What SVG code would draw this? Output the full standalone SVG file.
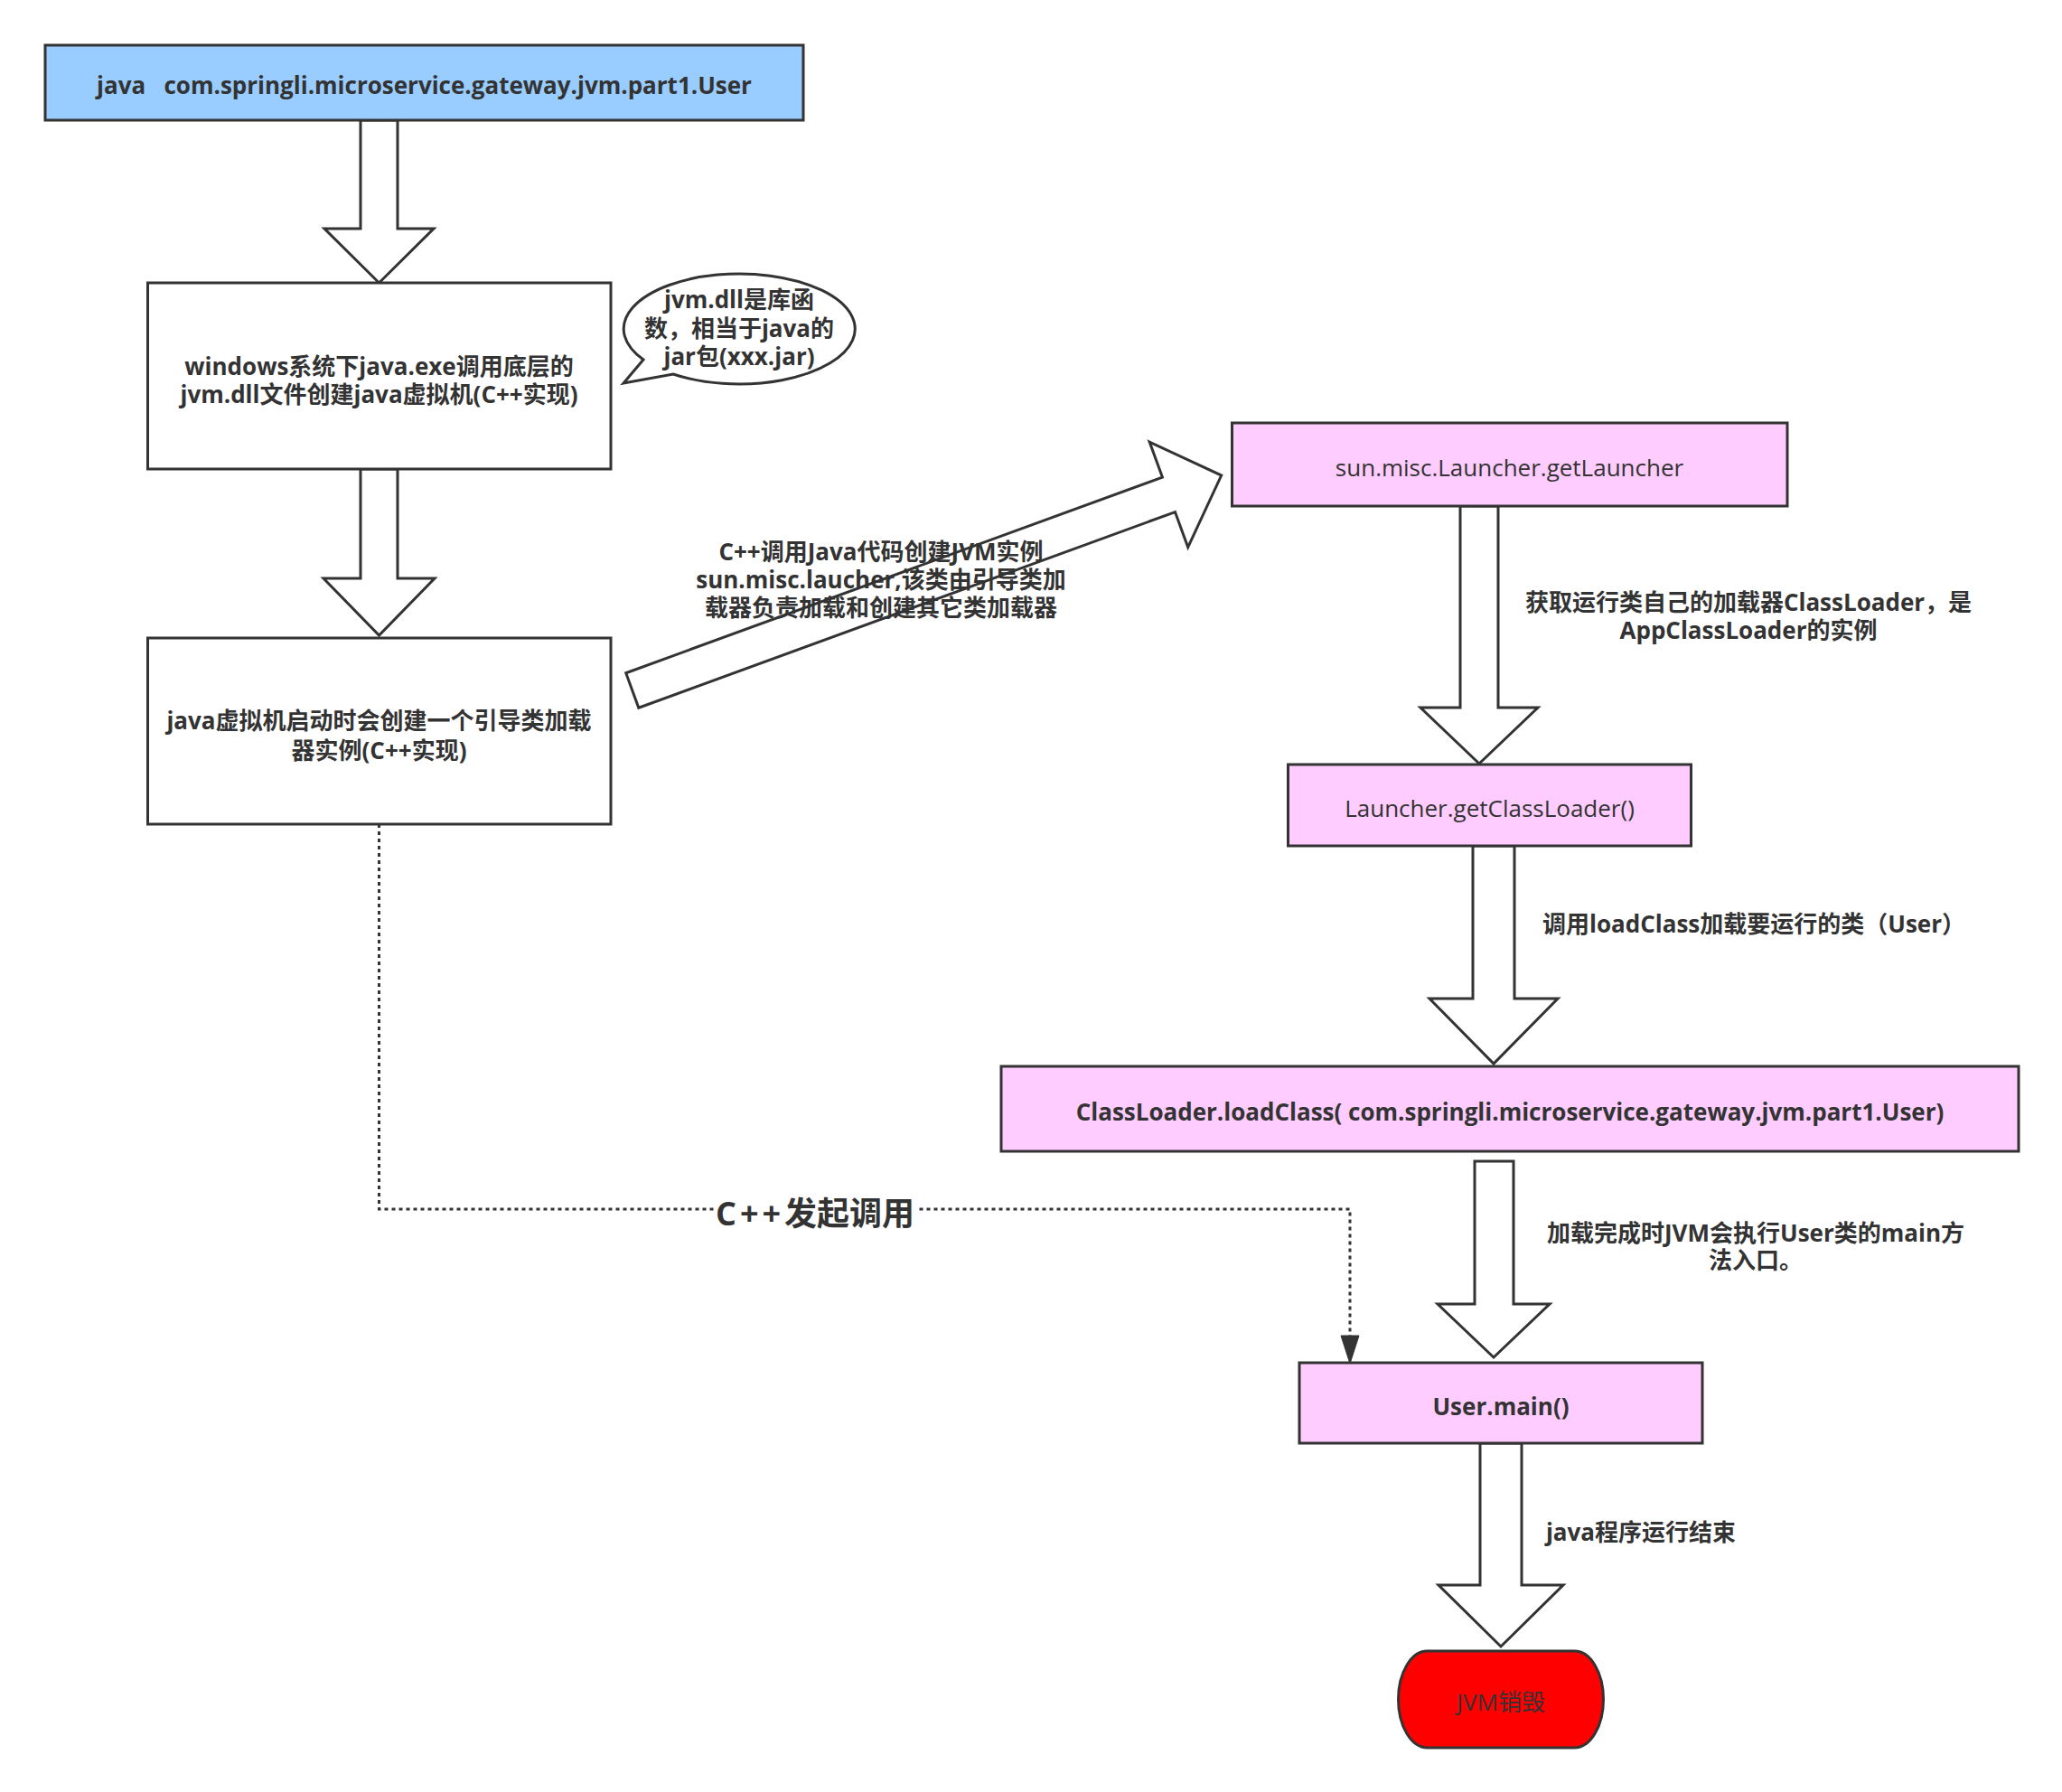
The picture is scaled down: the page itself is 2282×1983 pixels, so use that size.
<svg xmlns="http://www.w3.org/2000/svg" width="2282" height="1983" viewBox="0 0 2282 1983">
<style>
.bg{fill:#ffffff}
.box{stroke:#333333;stroke-width:3}
.blue{fill:#99CCFF}
.pink{fill:#FFCCFF}
.white{fill:#ffffff}
.red{fill:#FF0000}
.arrow{fill:#ffffff;stroke:#333333;stroke-width:3;stroke-linejoin:miter}
.dot{fill:none;stroke:#333333;stroke-width:3;stroke-dasharray:4 4}
text{font-family:"Open Sans","Noto Sans CJK SC",sans-serif;font-size:26px;fill:#333333;text-anchor:middle;dominant-baseline:central}
.b{font-weight:bold}
.big{font-size:36px;font-weight:bold}
</style>
<rect class="bg" x="0" y="0" width="2282" height="1983"/>
<g id="connectors">
<polygon class="arrow" points="399,133 440,133 440,253 480,253 419.5,313 359,253 399,253"/>
<polygon class="arrow" points="399,519 440,519 440,640 481,640 419.5,703 358,640 399,640"/>
<polygon class="arrow" transform="translate(699.75,764) rotate(-20.05)" points="0,-20.5 632,-20.5 632,-62 694,0 632,62 632,20.5 0,20.5"/>
<text class="b"><tspan x="975" y="610">C++调用Java代码创建JVM实例</tspan><tspan x="975" y="641">sun.misc.laucher,该类由引导类加</tspan><tspan x="975" y="672">载器负责加载和创建其它类加载器</tspan></text>
<polygon class="arrow" points="1616,560 1658,560 1658,783 1702,783 1637,845 1572,783 1616,783"/>
<text class="b"><tspan x="1935" y="666">获取运行类自己的加载器ClassLoader，是</tspan><tspan x="1935" y="697">AppClassLoader的实例</tspan></text>
<polygon class="arrow" points="1630,936 1676,936 1676,1105 1724,1105 1653,1177 1582,1105 1630,1105"/>
<text class="b" x="1941" y="1022">调用loadClass加载要运行的类（User）</text>
<polygon class="arrow" points="1632,1285 1675,1285 1675,1443 1715,1443 1653,1502 1591,1443 1632,1443"/>
<text class="b"><tspan x="1943" y="1364">加载完成时JVM会执行User类的main方</tspan><tspan x="1943" y="1394">法入口。</tspan></text>
<polygon class="arrow" points="1638,1597 1684,1597 1684,1754 1730,1754 1661,1822 1592,1754 1638,1754"/>
<text class="b" x="1816" y="1695">java程序运行结束</text>
<polyline class="dot" points="419.5,912 419.5,1338 1494,1338 1494,1480"/>
<polygon fill="#333333" stroke="#333333" stroke-width="1" points="1484,1478 1504,1478 1494,1509"/>
<rect x="790" y="1318" width="224" height="46" fill="#ffffff"/>
<text class="big" x="902" y="1342"><tspan letter-spacing="4">C++</tspan>发起调用</text>
</g>
<g id="node-start">
<rect class="box blue" x="50" y="50" width="839" height="83"/>
<text class="b" x="469.5" y="94">java&#160;&#160; com.springli.microservice.gateway.jvm.part1.User</text>
</g>
<g id="node-windows">
<rect class="box white" x="163.5" y="313" width="512.5" height="206"/>
<text class="b"><tspan x="419.5" y="405">windows系统下java.exe调用底层的</tspan><tspan x="419.5" y="436">jvm.dll文件创建java虚拟机(C++实现)</tspan></text>
</g>
<g id="node-bubble">
<path class="box white" d="M 712 398 L 690 424 L 745 414 A 128 61 0 1 0 712 398 Z"/>
<text class="b"><tspan x="818" y="331">jvm.dll是库函</tspan><tspan x="818" y="363">数，相当于java的</tspan><tspan x="818" y="394">jar包(xxx.jar)</tspan></text>
</g>
<g id="node-bootstrap">
<rect class="box white" x="163.5" y="706" width="512.5" height="206"/>
<text class="b"><tspan x="419.5" y="797">java虚拟机启动时会创建一个引导类加载</tspan><tspan x="419.5" y="830">器实例(C++实现)</tspan></text>
</g>
<g id="node-getLauncher">
<rect class="box pink" x="1363.5" y="468" width="614.5" height="92"/>
<text x="1670.5" y="516.5">sun.misc.Launcher.getLauncher</text>
</g>
<g id="node-getClassLoader">
<rect class="box pink" x="1425.5" y="846" width="446" height="90"/>
<text x="1648.5" y="894">Launcher.getClassLoader()</text>
</g>
<g id="node-loadClass">
<rect class="box pink" x="1108" y="1180" width="1126" height="94"/>
<text class="b" x="1671" y="1230">ClassLoader.loadClass( com.springli.microservice.gateway.jvm.part1.User)</text>
</g>
<g id="node-main">
<rect class="box pink" x="1438" y="1508" width="446" height="89"/>
<text class="b" x="1661" y="1556">User.main()</text>
</g>
<g id="node-destroy">
<rect class="box red" x="1547.5" y="1827" width="227" height="107" rx="32" ry="53.5"/>
<text x="1661" y="1883">JVM销毁</text>
</g>
</svg>
